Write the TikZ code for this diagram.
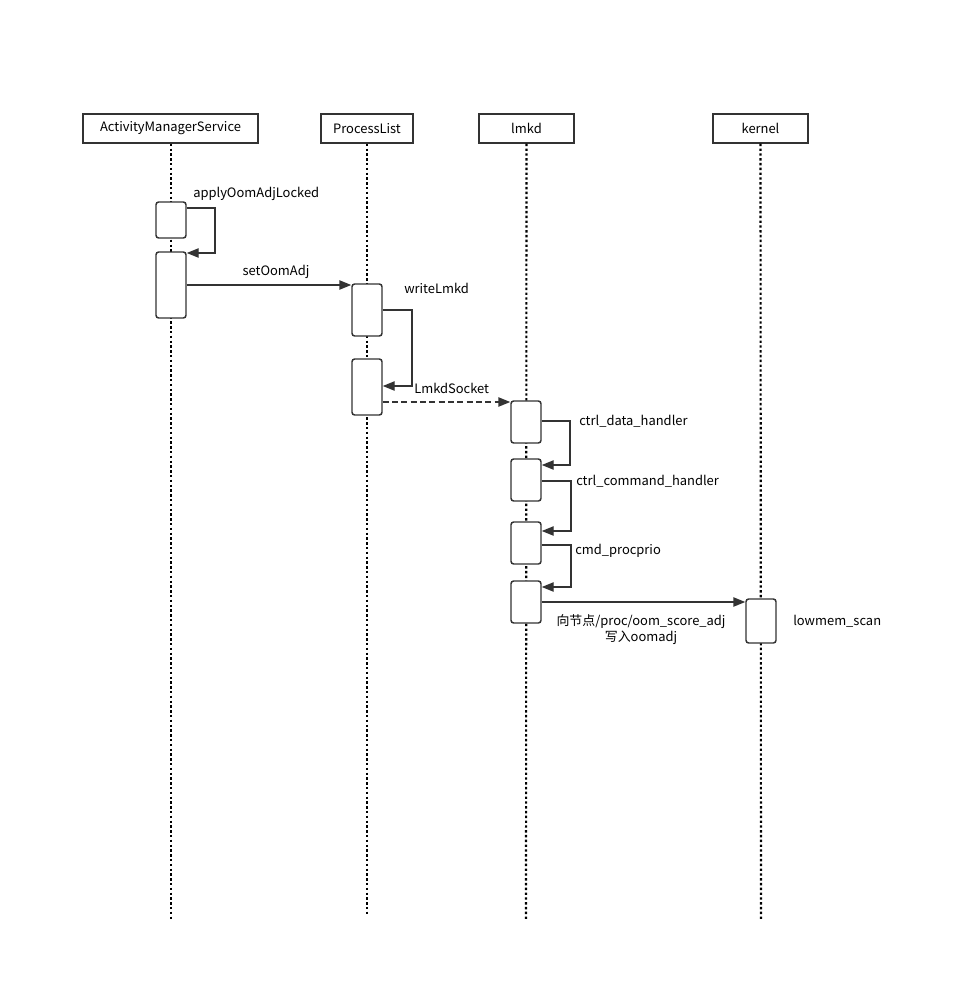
\documentclass[tikz,border=0pt]{standalone}
\usepackage{fontspec}
\setmainfont{Noto Sans CJK SC}
\usetikzlibrary{arrows.meta}
\definecolor{ink}{HTML}{333333}

\tikzset{
  actor/.style={draw=ink,line width=1.1pt,minimum height=21.75pt,inner sep=0pt,font=\fontsize{9.7}{12}\selectfont},
  act/.style={draw=ink,fill=white,line width=1.1pt,rounded corners=2pt,minimum width=22.5pt,inner sep=0pt},
  life/.style={black,line width=1.6pt,dash pattern=on 1.8pt off 1.8pt},
  msg/.style={ink,line width=1.1pt,-{Triangle[length=9pt,width=7pt]}},
  lbl/.style={font=\fontsize{9.7}{12}\selectfont,text=black,inner sep=0pt}
}

\begin{document}
\begin{tikzpicture}[x=0.75pt,y=-0.75pt]
    \useasboundingbox (0,0) rectangle (978,985);
    % actors
    \node[actor,minimum width=131.25pt] (ams) at (170.5,128.5) {ActivityManagerService};
    \node[actor,minimum width=69pt] (pl) at (367,128.5) {ProcessList};
    \node[actor,minimum width=71.25pt] (lmkd) at (526.5,128.5) {lmkd};
    \node[actor,minimum width=71.25pt] (kern) at (760.5,128.5) {kernel};
    % lifelines
    \draw[life] (ams.south-|171,0) -- (171,920);
    \draw[life] (pl.south) -- (367,915);
    \draw[life] (lmkd.south) -- (526,920);
    \draw[life] (kern.south) -- (761,920);
    % activations
    \node[act,minimum height=27pt] (ams1) at (171,220) {};
    \node[act,minimum height=49.5pt] (ams2) at (171,285) {};
    \node[act,minimum height=39pt] (pl1) at (367,310) {};
    \node[act,minimum height=42pt] (pl2) at (367,387) {};
    \foreach \n/\y in {1/422,2/480,3/543,4/602}{
      \node[act,minimum height=31.5pt] (lm\n) at (526,\y) {};
    }
    \node[act,minimum height=33pt] (kn1) at (761,621) {};
    % messages
    \draw[msg] (ams1.east|-0,208) -- (215,208) |- (ams2.east|-0,253);
    \node[lbl,anchor=west] (l1) at (193,194) {applyOomAdjLocked};
    \draw[msg] (ams2.east|-0,285) -- (pl1.west|-0,285);
    \node[lbl] (l2) at (276,272) {setOomAdj};
    \draw[msg] (pl1.east|-0,310) -- (412,310) |- (pl2.east|-0,386);
    \node[lbl,anchor=west] (l3) at (404,288) {writeLmkd};
    \draw[msg,dash pattern=on 4.5pt off 2.5pt] (pl2.east|-0,402) -- (lm1.west|-0,402);
    \node[lbl,anchor=west] (l4) at (414,388) {LmkdSocket};
    \draw[msg] (lm1.east|-0,421) -- (570,421) |- (lm2.east|-0,465);
    \node[lbl,anchor=west] (l5) at (579,421) {ctrl\_data\_handler};
    \draw[msg] (lm2.east|-0,481) -- (571,481) |- (lm3.east|-0,531);
    \node[lbl,anchor=west] (l6) at (576,481) {ctrl\_command\_handler};
    \draw[msg] (lm3.east|-0,545) -- (571,545) |- (lm4.east|-0,587);
    \node[lbl,anchor=west] (l7) at (575,551) {cmd\_procprio};
    \draw[msg] (lm4.east|-0,602) -- (kn1.west|-0,602);
    \node[lbl,align=center] (l8) at (641,630) {向节点/proc/oom\_score\_adj\\写入oomadj};
    \node[lbl,anchor=west] (l9) at (793,621) {lowmem\_scan};
\end{tikzpicture}
\end{document}
